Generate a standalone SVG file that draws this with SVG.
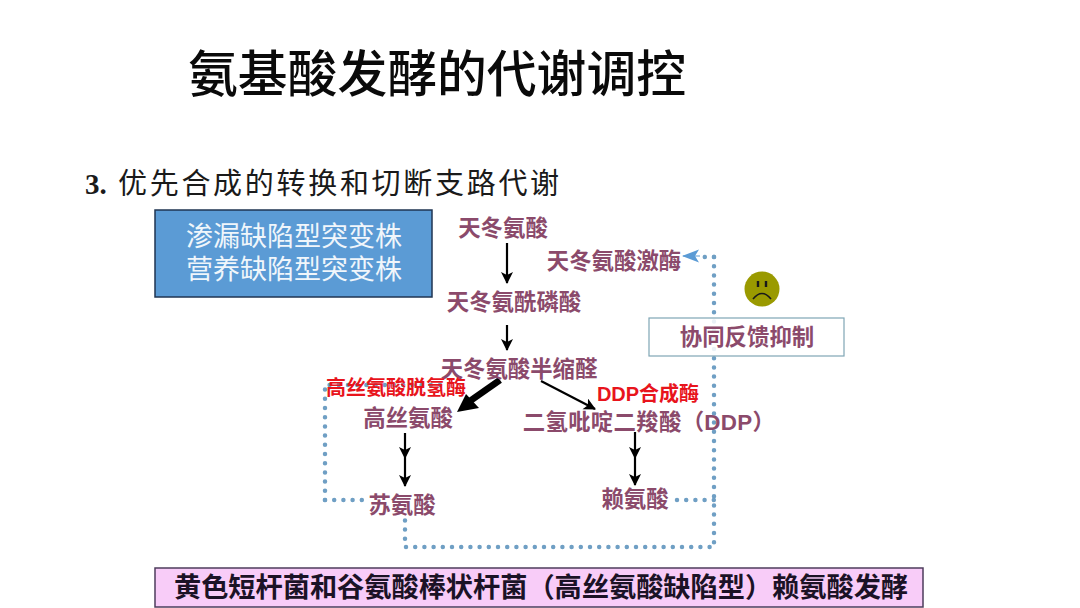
<svg xmlns="http://www.w3.org/2000/svg" width="1080" height="608" viewBox="0 0 1080 608">
<style>
text{font-family:"Liberation Sans","Noto Sans CJK SC",sans-serif}
.n{font-size:22.4px;font-weight:700;fill:#8b4a6b;text-anchor:middle}
.e{font-size:20px;font-weight:700;fill:#e8141c;text-anchor:middle}
.dot{fill:none;stroke:#6f9fc4;stroke-width:4.5;stroke-linecap:round;stroke-dasharray:0 9.2}
.a{fill:none;stroke:#000;stroke-width:2.2;marker-end:url(#h)}
.w{font-size:27px;fill:#f0f6fb;text-anchor:middle;font-family:"Liberation Serif","Noto Sans CJK SC",serif}
</style>
<defs>
<marker id="h" markerUnits="userSpaceOnUse" markerWidth="14" markerHeight="14" refX="11" refY="6" orient="auto"><path d="M0 0L12 6L0 12L3 6Z" fill="#000"/></marker>
<marker id="b" markerUnits="userSpaceOnUse" markerWidth="18" markerHeight="14" refX="16" refY="6.5" orient="auto"><path d="M0 0L17 6.5L0 13L4 6.5Z" fill="#5b9bd5"/></marker>
</defs>
<rect width="1080" height="608" fill="#fff"/>
<text x="437" y="92" font-size="49.8" text-anchor="middle" style="font-family:'Noto Sans CJK SC','Liberation Serif',serif;font-weight:500" fill="#0a0a0a">氨基酸发酵的代谢调控</text>
<text y="194" font-size="29" style="font-family:'Liberation Serif','Noto Sans CJK SC',serif" fill="#1a1a1a"><tspan x="85" font-weight="700">3.</tspan><tspan x="118" letter-spacing="2.7">优先合成的转换和切断支路代谢</tspan></text>
<g id="connectors">
<path class="dot" d="M714 257V547H405V518"/>
<path class="dot" d="M325 500H363"/>
<path class="dot" d="M325 500V385H440"/>
<path class="dot" d="M677 500H714"/>
<path class="dot" d="M714 257H696"/>
<path d="M700 256H683" fill="none" stroke="#5b9bd5" stroke-width="1" marker-end="url(#b)"/>
<path class="a" d="M507 243V283"/>
<path class="a" d="M507 325V350"/>
<path class="a" d="M541 381L595 409"/>
<path d="M500 380L470 401" fill="none" stroke="#000" stroke-width="6.5"/>
<path d="M457 412L466 394L479 408Z" fill="#000"/>
<path class="a" d="M405 433V458"/>
<path class="a" d="M405 458V486"/>
<path class="a" d="M635 432V458"/>
<path class="a" d="M635 458V485"/>
</g>
<g id="node-leaky"><rect x="155" y="210" width="277" height="87" fill="#5b9bd5" stroke="#1f3552" stroke-width="1.5"/>
<text class="w" x="294" y="246">渗漏缺陷型突变株</text>
<text class="w" x="294" y="279">营养缺陷型突变株</text></g>
<g id="node-asp"><text class="n" x="503" y="236">天冬氨酸</text></g>
<g id="node-kinase"><text class="n" x="614" y="269">天冬氨酸激酶</text></g>
<g id="node-aspp"><text class="n" x="514" y="310">天冬氨酰磷酸</text></g>
<g id="node-asa"><text class="n" x="519" y="377">天冬氨酸半缩醛</text></g>
<g id="node-hsd"><text class="e" x="396" y="395">高丝氨酸脱氢酶</text></g>
<g id="node-dds"><text class="e" x="648" y="401">DDP合成酶</text></g>
<g id="node-hse"><text class="n" x="408" y="426">高丝氨酸</text></g>
<g id="node-ddp"><text class="n" x="649" y="430" letter-spacing=".3">二氢吡啶二羧酸（DDP）</text></g>
<g id="node-thr"><text class="n" x="402" y="513">苏氨酸</text></g>
<g id="node-lys"><text class="n" x="635" y="507">赖氨酸</text></g>
<g id="node-face"><circle cx="762" cy="289" r="17.5" fill="#9a9a00"/>
<path d="M758 281V287M766 281V287" stroke="#1a1a1a" stroke-width="2.4" fill="none"/>
<path d="M753 299Q762 288 771 299" stroke="#1a1a1a" stroke-width="1.6" fill="none"/></g>
<g id="node-feedback"><rect x="649" y="318" width="195" height="38" fill="#fff" fill-opacity=".85" stroke="#7fa6b5" stroke-width="1.2"/>
<text class="n" x="747" y="345">协同反馈抑制</text></g>
<g id="node-caption"><rect x="155" y="568" width="768" height="39" fill="#f8ccf8" stroke="#4d3d5c" stroke-width="1.5"/>
<text x="541" y="597" font-size="27.2" font-weight="700" fill="#1b1226" text-anchor="middle">黄色短杆菌和谷氨酸棒状杆菌（高丝氨酸缺陷型）赖氨酸发酵</text></g>
</svg>
